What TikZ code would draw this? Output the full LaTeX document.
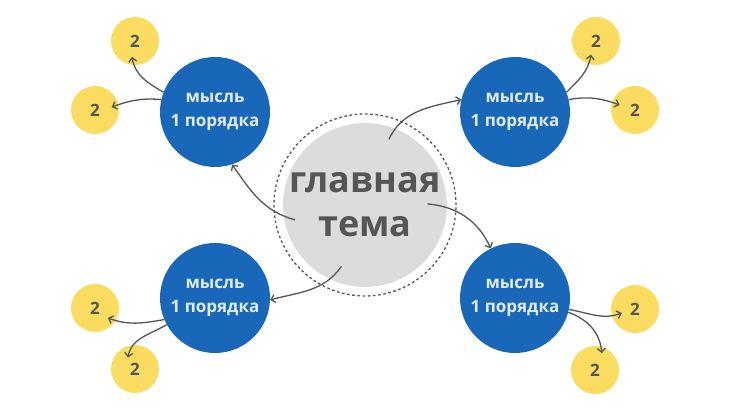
\documentclass[tikz,border=0pt]{standalone}
\usepackage{fontspec}
\setmainfont{Open Sans}
\usetikzlibrary{calc}
\usetikzlibrary{arrows.meta}

\definecolor{themegray}{HTML}{DCDCDC}
\definecolor{textgray}{HTML}{555555}
\definecolor{ideablue}{HTML}{1967B8}
\definecolor{ideatext}{HTML}{E2ECF6}
\definecolor{subyellow}{HTML}{FADC60}
\definecolor{linkgray}{HTML}{555555}

\begin{document}
\begin{tikzpicture}[x=1pt,y=1pt,
    idea/.style={circle,fill=ideablue,minimum size=110pt,inner sep=0pt,
        text=ideatext,font=\fontsize{17}{24}\selectfont\bfseries,align=center},
    sub/.style={circle,fill=subyellow,minimum size=48pt,inner sep=0pt,
        text=textgray,font=\fontsize{17}{17}\selectfont\bfseries},
    link/.style={draw=linkgray,line width=1.3pt,-{Straight Barb[length=4pt,width=8pt]}}]
    \fill[white] (0,0) rectangle (730,411);
    \useasboundingbox (0,0) rectangle (730,411);

    % main theme
    \node[circle,draw=textgray,dashed,dash pattern=on 2.6pt off 2.6pt,line width=1.3pt,
        minimum size=182pt] (ring) at (365,206) {};
    \node[circle,fill=themegray,minimum size=158pt,inner sep=0pt,text=textgray,
        font=\fontsize{36}{44}\selectfont\bfseries,align=center] (main) at (365,206)
        {главная\\тема};

    % first order ideas
    \node[idea] (tl) at (215,299) {мысль\\1 порядка};
    \node[idea] (tr) at (515,299) {мысль\\1 порядка};
    \node[idea] (bl) at (215,113) {мысль\\1 порядка};
    \node[idea] (br) at (515,113) {мысль\\1 порядка};

    % second order ideas
    \node[sub] (tla) at (135,370) {2};
    \node[sub] (tlb) at ( 95,301) {2};
    \node[sub] (tra) at (596,370) {2};
    \node[sub] (trb) at (635,301) {2};
    \node[sub] (bla) at ( 95,103) {2};
    \node[sub] (blb) at (135, 42) {2};
    \node[sub] (bra) at (635,102) {2};
    \node[sub] (brb) at (595, 41) {2};

    % links from the main theme
    \draw[link] ($(main.center)!0.85!(main.70)$)  to[out=65,in=193]  (tr.167);
    \draw[link] ($(main.center)!0.87!(main.192)$) to[out=165,in=-55] (tl.-72);
    \draw[link] ($(main.center)!0.80!(main.249)$) to[out=235,in=15]  (bl.358);
    \draw[link] ($(main.center)!0.76!(main.1)$)   to[out=-5,in=115]  (br.116);

    % links to second order
    \draw[link] (tl.159) to[out=150,in=-80] ($(tla)!0.67!(tla.259)$);
    \draw[link] (tl.167) to[out=175,in=20]  ($(tlb)!0.70!(tlb.10)$);
    \draw[link] (tr.21)  to[out=45,in=-100] ($(tra)!0.60!(tra.250)$);
    \draw[link] (tr.13)  to[out=10,in=160]  ($(trb)!0.67!(trb.162)$);
    \draw[link] (bl.203) to[out=190,in=-20] ($(bla)!0.67!(bla.-38)$);
    \draw[link] (bl.209) to[out=210,in=80]  ($(blb)!0.55!(blb.122)$);
    \draw[link] (br.-12) to[out=-10,in=200] ($(bra)!0.57!(bra.197)$);
    \draw[link] (br.-15) to[out=-20,in=95]  ($(brb)!0.75!(brb.68)$);
\end{tikzpicture}
\end{document}
